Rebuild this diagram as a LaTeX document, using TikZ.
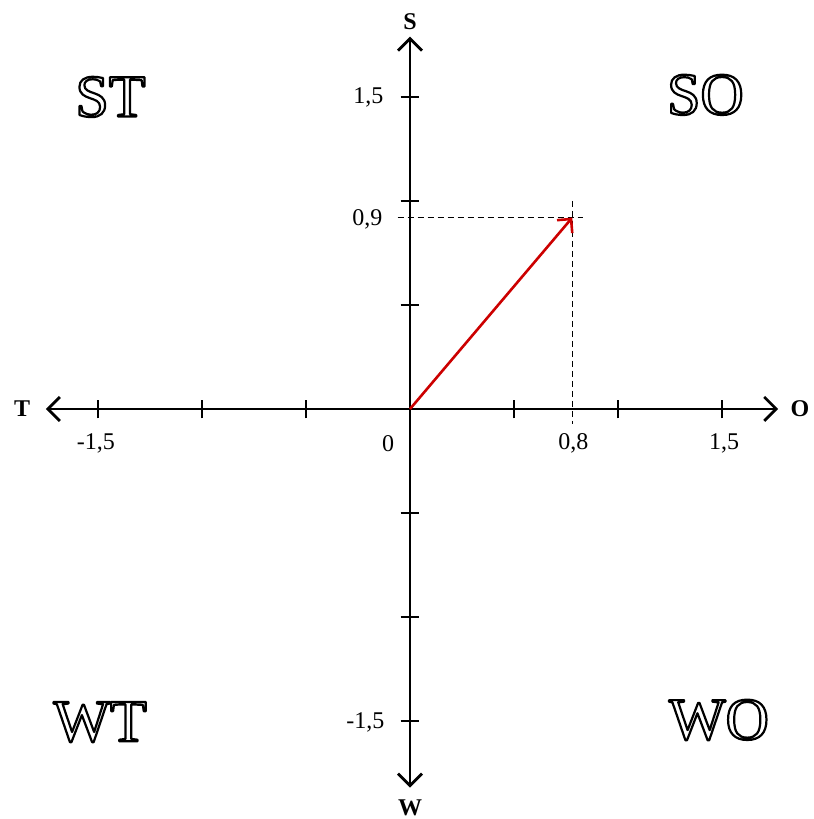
\documentclass[tikz,border=0pt]{standalone}
\usepackage{fontspec}
\setmainfont{Liberation Serif}
\usetikzlibrary{arrows.meta}

% hollow letters: white fill, black stroke
\newcommand{\hollowtext}[1]{\textcolor{white}{\special{pdf:literal direct 0 G 1.1 w 1 j 2 Tr}#1\special{pdf:literal direct 0 Tr}}}

\tikzset{
  axis/.style={line width=1.4pt,black},
  axlabel/.style={font=\fontsize{12}{14}\selectfont\bfseries,inner sep=0pt},
  ticklabel/.style={font=\fontsize{12}{14}\selectfont,inner sep=0pt},
  quadrant/.style={font=\fontsize{30}{32}\selectfont,inner sep=0pt},
  guide/.style={densely dashed,line width=0.6pt},
}

\begin{document}
\begin{tikzpicture}[x=104pt,y=104pt,>={Straight Barb[length=6pt,width=12pt,line width=1.4pt]}]

\useasboundingbox (-1.971,-1.971) rectangle (1.938,1.966);

% axes
\coordinate (orig) at (0,0);
\coordinate (tend) at (-1.75,0);
\coordinate (oend) at (1.77,0);
\coordinate (send) at (0,1.79);
\coordinate (wend) at (0,-1.82);

\draw[<->,axis] (tend) -- (oend);

\draw[<->,axis] (wend) -- (send);

\node[axlabel] (T) at (-1.865,0) {T};
\node[axlabel] (O) at (1.875,0) {O};
\node[axlabel] (S) at (0,1.86) {S};
\node[axlabel] (W) at (0,-1.915) {W};

% ticks
\foreach \t in {-1.5,-1,-0.5,0.5,1,1.5}{
  \draw[line width=0.8pt] (\t,-0.045) -- (\t,0.045);
  \draw[line width=0.8pt] (-0.045,\t) -- (0.045,\t);
}

\node[ticklabel] (xa) at (-1.51,-0.165) {-1,5};
\node[ticklabel] (xo) at (-0.105,-0.165) {0};
\node[ticklabel] (xb) at (0.785,-0.165) {0,8};
\node[ticklabel] (xc) at (1.51,-0.165) {1,5};

\node[ticklabel] (ya) at (-0.2,1.5) {1,5};
\node[ticklabel] (yb) at (-0.205,0.91) {0,9};
\node[ticklabel] (yc) at (-0.215,-1.505) {-1,5};

% vector and its components
\coordinate (tip) at (0.78,0.92);
\coordinate (hx) at (-0.06,0.92);
\coordinate (hy) at (0.83,0.92);
\coordinate (vt) at (0.78,1.0);
\coordinate (vb) at (0.78,-0.07);

\draw[guide] (hx) -- (hy);

\draw[guide] (vt) -- (vb);

\draw[->,line width=1.3pt,red!80!black,
  >={Straight Barb[length=5pt,width=10pt,line width=1.3pt]}] (orig) -- (tip);

% quadrants
\node[quadrant] (st) at (-1.44,1.5) {\hollowtext{ST}};
\node[quadrant] (so) at (1.42,1.51) {\hollowtext{SO}};
\node[quadrant] (wt) at (-1.49,-1.505) {\hollowtext{WT}};
\node[quadrant] (wo) at (1.485,-1.495) {\hollowtext{WO}};

\end{tikzpicture}
\end{document}
